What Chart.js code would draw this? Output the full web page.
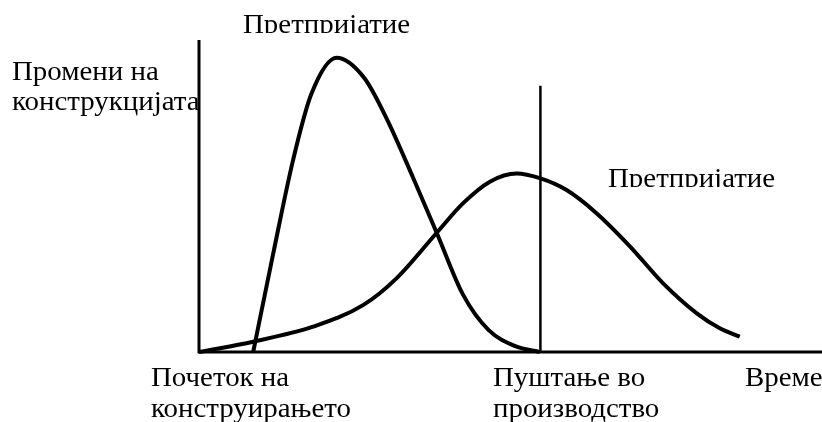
<!DOCTYPE html>
<html>
<head>
<meta charset="utf-8">
<script src="https://cdn.jsdelivr.net/npm/chart.js@4.4.1/dist/chart.umd.min.js"></script>
<style>
  html, body { margin: 0; padding: 0; background: #fff; }
  #wrap { width: 822px; height: 422px; position: relative; }
</style>
</head>
<body>
<div id="wrap"><canvas id="c"></canvas></div>
<script>
// Криви на промени на конструкцијата (x: време, y: број на промени, 0–100)
const firstX  = [8.7, 12.0, 15.1, 18.0, 22.1, 26.5, 30.1, 34.4, 38.2, 42.4, 46.5, 51.0, 54.7];
const firstY  = [0, 32.4, 61.5, 82.5, 94.3, 87.9, 74.9, 55.7, 38.0, 18.3, 7.0, 1.7, 0];
const secondX = [0, 8.7, 18.3, 26.4, 31.7, 38.2, 42.4, 46.7, 51.0, 54.7, 59.0, 63.8, 69.2, 74.5, 79.9, 83.6, 86.8];
const secondY = [0, 3.3, 8.1, 15.1, 23.6, 38.3, 47.7, 54.6, 57.2, 55.7, 51.9, 44.5, 33.8, 22.0, 12.4, 7.6, 4.9];

// Оски и линија за пуштање во производство
const axisX    = [0, 0, 100];
const axisY    = [100, 0, 0];
const releaseX = [54.8, 54.8];
const releaseY = [0, 85.3];

const topLabel     = 'Претпријатие';
const sideLabel    = 'Претпријатие';
const yTitle       = ['Промени на', 'конструкцијата'];
const startLabel   = ['Почеток на', 'конструирањето'];
const releaseLabel = ['Пуштање во', 'производство'];
const timeLabel    = 'Време';

const pts = (xs, ys) => xs.map((x, i) => ({ x, y: ys[i] }));

// текстови околу графикот (фонтот во оригиналот е малку поширок)
const labelsPlugin = {
  id: 'labels',
  afterDraw(chart) {
    const ctx = chart.ctx;
    const sx = 1.07;
    const put = (t, x, y) => {
      ctx.save();
      ctx.scale(sx, 1);
      ctx.fillText(t, x / sx, y);
      ctx.restore();
    };
    ctx.save();
    ctx.fillStyle = '#000';
    ctx.font = "27px 'Liberation Serif', 'Times New Roman', serif";
    ctx.textBaseline = 'alphabetic';

    // двата натписи „Претпријатие“ се отсечени одоздола
    ctx.save();
    ctx.beginPath();
    ctx.rect(0, 0, 822, 33);
    ctx.clip();
    put(topLabel, 243, 33);
    ctx.restore();

    ctx.save();
    ctx.beginPath();
    ctx.rect(560, 150, 262, 37);
    ctx.clip();
    put(sideLabel, 608, 187);
    ctx.restore();

    put(yTitle[0], 12, 80);
    put(yTitle[1], 12, 110);
    put(startLabel[0], 151, 386);
    put(startLabel[1], 151, 417);
    put(releaseLabel[0], 493, 386);
    put(releaseLabel[1], 493, 417);
    put(timeLabel, 745, 386);
    ctx.restore();
  }
};

new Chart(document.getElementById('c'), {
  type: 'scatter',
  data: {
    datasets: [
      {
        data: pts(axisX, axisY),
        showLine: true, borderColor: '#000', borderWidth: 3,
        pointRadius: 0, tension: 0,
      },
      {
        data: pts(releaseX, releaseY),
        showLine: true, borderColor: '#000', borderWidth: 2.5,
        pointRadius: 0, tension: 0,
      },
      {
        data: pts(firstX, firstY),
        showLine: true, borderColor: '#000', borderWidth: 4,
        pointRadius: 0, cubicInterpolationMode: 'monotone',
        borderJoinStyle: 'round',
      },
      {
        data: pts(secondX, secondY),
        showLine: true, borderColor: '#000', borderWidth: 4,
        pointRadius: 0, cubicInterpolationMode: 'monotone',
        borderJoinStyle: 'round',
      },
    ],
  },
  options: {
    responsive: true,
    maintainAspectRatio: false,
    animation: false,
    clip: false,
    layout: { padding: { left: 199, top: 40, right: 0, bottom: 70 } },
    scales: {
      x: { type: 'linear', display: false, min: 0, max: 100 },
      y: { type: 'linear', display: false, min: 0, max: 100 },
    },
    plugins: {
      legend: { display: false },
      tooltip: { enabled: false },
    },
  },
  plugins: [labelsPlugin],
});
</script>
</body>
</html>
